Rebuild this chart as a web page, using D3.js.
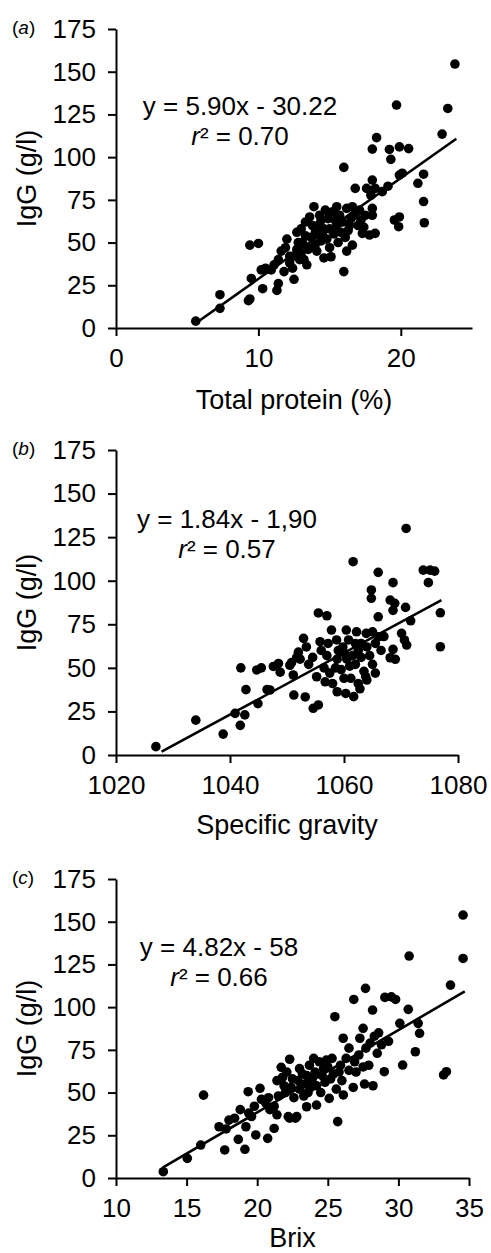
<!DOCTYPE html>
<html lang="en">
<head>
<meta charset="utf-8">
<title>IgG vs total protein, specific gravity and Brix</title>
<script src="https://cdn.jsdelivr.net/npm/d3@7"></script>
<style>
  body { margin: 0; background: #fff; }
  svg text { font-family: "Liberation Sans", Arial, sans-serif; fill: #000; }
</style>
</head>
<body>
<script>
// values
var igTicks = [0, 25, 50, 75, 100, 125, 150, 175];
var proteinTicks = [0, 10, 20];
var gravityTicks = [1020, 1040, 1060, 1080];
var brixTicks = [10, 15, 20, 25, 30, 35];

// (a) total protein (%) vs IgG (g/l)
var proteinPts = [
  [5.6,4],[7.3,11.5],[7.3,19.5],[9.3,16],[9.4,17],[9.5,29],[9.4,48.5],[10.0,49.5],
  [10.3,23],[10.2,34],[10.5,35],[10.9,34],[11.3,22],[11.4,26],[11.1,37],[11.4,40],
  [11.6,45],[11.9,47],[12.0,52],[12.5,28.5],[12.2,38],[12.4,42],[12.7,46],[12.9,40],
  [13.4,37],[12.7,56],[13.0,58],[13.3,62],[13.6,65],[13.9,71],[13.1,50],[13.5,47],
  [13.7,53],[14.0,56],[14.2,60],[14.4,63],[14.6,58],[14.1,45],[14.4,51],[14.8,52],
  [15.0,47],[15.1,41.7],[15.3,55],[15.5,60],[15.5,71],[15.7,66],[15.9,62],[16.0,33],
  [16.0,94],[16.1,53],[16.2,70],[16.3,57],[16.5,64],[16.6,71],[16.6,48.5],[16.8,81.7],
  [16.9,68],[17.0,60],[17.2,63],[17.3,55.4],[17.5,66],[17.6,81.7],[17.8,54.4],[17.9,77.7],
  [18.0,86.6],[18.0,70],[18.0,66],[18.2,81.7],[18.2,55.4],[18.3,111.4],[18.0,104.7],[18.7,79.8],
  [19.1,83],[19.2,104.5],[19.3,98.7],[19.55,63.2],[19.7,130.5],[19.85,59.3],[19.9,65],[19.9,106],
  [19.9,89.5],[20.1,90.6],[20.55,105],[21.2,84.7],[21.6,90],[21.6,74],[21.65,61.6],[22.9,113.5],
  [23.3,128.5],[23.8,154.5],
  [12.2,42],[12.8,50],[13.0,44],[13.3,54],[13.8,60],[14.3,66],[14.9,64],[15.2,68],
  [15.6,50],[15.8,56],[16.4,60],[13.5,46],[14.6,41],[12.4,35],[11.8,33],[14.7,69],
  [15.4,63],[16.7,66],[17.1,69],[14.5,55],[15.0,58],[14.0,49],[13.2,40],[16.2,45],[17.4,59]
];

// (b) specific gravity vs IgG (g/l)
var gravityPts = [
  [1027,4.8],[1034,20],[1038.8,12],[1040.9,23.9],[1041.8,17],[1042.6,23],[1041.9,50],[1042.8,37.5],
  [1044.7,48.8],[1044.9,29.5],[1046.5,37.5],[1047,37.3],[1047.6,50.8],[1048.5,52.5],[1048.8,47.5],[1050.5,51.5],
  [1051.1,45.9],[1050.8,53],[1051.2,34.4],[1051.7,56],[1052.0,59],[1052.3,55],[1052.9,66.9],[1053.2,33.3],
  [1053.4,62],[1054.6,26.8],[1055.5,28.7],[1055.2,44.9],[1056.7,42],[1055.5,81.5],[1057.0,79.9],[1055.8,65],
  [1057.2,64],[1058.7,66],[1057.8,71.7],[1058.8,36.3],[1060.3,35.3],[1061.7,33.5],[1058.8,55],[1060.5,55],
  [1058.5,50],[1059.5,49],[1061.0,51],[1062.0,52],[1061.2,44],[1062.5,41],[1063.8,45],[1059.0,60],
  [1060.2,58],[1061.5,57],[1062.5,60],[1063.0,56],[1060.4,71.7],[1062.2,70.7],[1063.9,69.8],[1065.0,70.7],
  [1066.0,67.8],[1061.6,110.9],[1066.0,104.8],[1064.8,94.7],[1064.8,89.9],[1068.6,98.9],[1068.1,88.9],[1068.9,87],
  [1068.6,83],[1070.8,84.7],[1066.0,79.3],[1071.7,77],[1070.9,130],[1073.9,106.1],[1075.1,106.1],[1075.9,105.5],
  [1074.8,98.9],[1076.9,81.6],[1076.9,62.1],[1070.1,69.8],[1070.6,66],[1071.0,63.1],[1068.6,60.6],[1068.1,55.8],
  [1069.0,54.9],[1064.0,62],[1065.5,64],[1063.0,64],[1066.5,60],[1064.5,57],[1063.5,48],[1065.0,52],
  [1059.8,62],[1057.0,57],[1056.0,60],[1054.5,56],[1053.8,52],[1056.5,50],[1057.5,47],[1062.8,38],
  [1064.0,43],[1060.0,44],[1058.0,41],[1065.5,47],[1067.0,68],[1062.0,64],[1060.8,66],[1045.5,50]
];

// (c) Brix vs IgG (g/l)
var brixPts = [
  [13.35,3.7],[15.05,11.5],[16.0,19.3],[16.2,48.5],[17.7,16.4],[17.8,28.7],[18.0,33.9],[18.4,35],
  [18.66,22.6],[19.13,16.8],[19.36,50.5],[19.4,38],[19.6,36],[19.9,25.2],[20.2,52.5],[20.74,23.2],
  [21.2,29],[20.3,46],[20.6,44],[20.9,40],[21.4,37],[21.7,64.8],[21.4,57],[21.8,59],
  [22.3,69.5],[22.3,35],[22.7,35],[22.2,35.9],[22.8,35.9],[23.5,41.7],[24.2,42.7],[21.5,48],
  [22.0,50],[22.4,53],[22.6,47],[22.9,57],[23.0,52],[23.2,61],[23.4,55],[23.6,50],
  [23.7,66],[23.9,58],[24.1,62],[24.2,54],[24.4,68],[24.6,60],[24.8,56],[25.0,65],
  [25.1,46.6],[25.3,70],[25.4,61],[25.5,94.4],[25.7,33],[25.9,66],[26.1,48.6],[26.09,81.8],
  [26.3,70],[26.5,63],[26.8,53],[26.84,104.5],[26.9,68],[27.0,62],[27.27,81.8],[27.5,87.6],
  [27.67,111],[27.5,65],[27.7,76],[27.9,66],[28.17,98.3],[28.2,54],[27.6,55],[28.0,79],
  [28.3,83],[28.6,85],[28.8,78],[29.0,62.2],[29.04,105.7],[29.5,106],[29.8,104.5],[30.1,90.5],
  [30.3,66.1],[30.7,98.7],[30.76,129.9],[31.2,73.9],[31.4,90.5],[31.5,84.7],[33.2,60.3],[33.4,62.2],
  [33.69,112.9],[34.58,128.5],[34.58,153.9],
  [22.5,58],[23.0,64],[23.3,48],[23.8,53],[24.0,70],[24.5,50],[24.9,69],[25.2,58],
  [25.6,52],[26.0,57],[22.1,62],[21.9,54],[23.5,60],[24.7,64],[25.8,62],[20.8,47],
  [21.2,42],[19.8,42],[18.8,40],[17.3,30],[19.2,30],[26.5,76],[28.5,73],[27.2,72],[29.3,80]
];

// regression line end points, as drawn
var proteinFit = [[5.55, 2.5], [23.9, 110.8]];
var gravityFit = [[1028, 1.9], [1077.1, 88.9]];
var brixFit = [[13.3, 6.1], [34.7, 109.2]];

var panels = [
  { tag: "a", title: "Total protein (%)", pts: proteinPts, fit: proteinFit,
    xDomain: [0, 25], xTicks: proteinTicks, eq: "y = 5.90x - 30.22", r2: "0.70",
    top: 29, bottom: 328, right: 472, eqX: 240, eqY: 115, titleY: 409 },
  { tag: "b", title: "Specific gravity", pts: gravityPts, fit: gravityFit,
    xDomain: [1020, 1080], xTicks: gravityTicks, eq: "y = 1.84x - 1,90", r2: "0.57",
    top: 450, bottom: 755, right: 458, eqX: 227, eqY: 528, titleY: 834 },
  { tag: "c", title: "Brix", pts: brixPts, fit: brixFit,
    xDomain: [10, 35], xTicks: brixTicks, eq: "y = 4.82x - 58", r2: "0.66",
    top: 879, bottom: 1178, right: 469, eqX: 219, eqY: 956, titleY: 1247 }
];

var width = 491, height = 1253, left = 116;

var svg = d3.select("body").append("svg")
    .attr("width", width)
    .attr("height", height);

svg.append("rect").attr("width", width).attr("height", height).attr("fill", "#fff");

panels.forEach(function(p) {
    var x = d3.scaleLinear().domain(p.xDomain).range([left, p.right]);
    var y = d3.scaleLinear().domain([0, 175]).range([p.bottom, p.top]);
    var g = svg.append("g");

    var yAxis = g.append("g")
        .attr("transform", "translate(" + left + ",0)")
        .call(d3.axisLeft(y).tickValues(igTicks).tickSize(8).tickSizeOuter(0).tickPadding(12));

    var xAxis = g.append("g")
        .attr("transform", "translate(0," + p.bottom + ")")
        .call(d3.axisBottom(x).tickValues(p.xTicks).tickSize(8).tickSizeOuter(0).tickPadding(13)
            .tickFormat(d3.format("d")));

    [yAxis, xAxis].forEach(function(a) {
        a.selectAll("path, line").attr("stroke", "#000").attr("stroke-width", 2);
        a.selectAll("text").attr("font-size", 26).attr("fill", "#000");
    });

    // points
    g.selectAll("circle")
        .data(p.pts)
        .enter()
        .append("circle")
        .attr("cx", function(d) { return x(d[0]); })
        .attr("cy", function(d) { return y(d[1]); })
        .attr("r", 4.8)
        .attr("fill", "#000");

    // fitted line
    g.append("line")
        .attr("x1", x(p.fit[0][0])).attr("y1", y(p.fit[0][1]))
        .attr("x2", x(p.fit[1][0])).attr("y2", y(p.fit[1][1]))
        .attr("stroke", "#000")
        .attr("stroke-width", 2.6);

    // equation
    g.append("text")
        .attr("x", p.eqX).attr("y", p.eqY)
        .attr("text-anchor", "middle")
        .attr("font-size", 26)
        .text(p.eq);

    var r2 = g.append("text")
        .attr("x", p.eqX).attr("y", p.eqY + 30)
        .attr("text-anchor", "middle")
        .attr("font-size", 26);
    r2.append("tspan").attr("font-style", "italic").text("r");
    r2.append("tspan").text("\u00b2 = " + p.r2);

    // panel tag
    var tag = g.append("text")
        .attr("x", 12).attr("y", p.top + 5)
        .attr("font-size", 19);
    tag.append("tspan").text("(");
    tag.append("tspan").attr("font-style", "italic").text(p.tag);
    tag.append("tspan").text(")");

    // axis titles
    g.append("text")
        .attr("x", (left + p.right) / 2)
        .attr("y", p.titleY)
        .attr("text-anchor", "middle")
        .attr("font-size", 27)
        .text(p.title);

    g.append("text")
        .attr("transform", "translate(36," + (p.top + p.bottom) / 2 + ") rotate(-90)")
        .attr("text-anchor", "middle")
        .attr("font-size", 27)
        .text("IgG (g/l)");
});
</script>
</body>
</html>
